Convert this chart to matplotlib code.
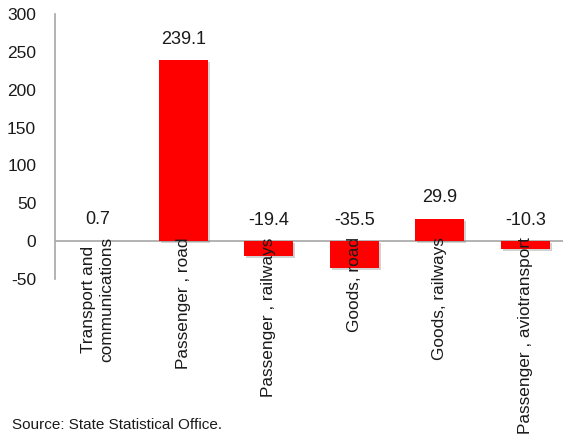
import matplotlib
matplotlib.use("Agg")
import matplotlib.pyplot as plt
import matplotlib.patheffects as pe

# data
categories = ["Transport and\ncommunications", "Passenger , road", "Passenger , railways",
              "Goods, road", "Goods, railways", "Passenger , aviotransport"]
values = [0.7, 239.1, -19.4, -35.5, 29.9, -10.3]
yticks = [-50, 0, 50, 100, 150, 200, 250, 300]

plt.rcParams['font.family'] = ['Liberation Sans', 'DejaVu Sans']
plt.rcParams['axes.unicode_minus'] = False

fig = plt.figure(figsize=(5.63, 4.41), dpi=100)
ax = fig.add_axes([55/563, 1 - 279/441, 513/563, 265/441])  # axes runs a bit past the right edge
ax.set_axisbelow(False)  # tick labels drawn on top of the bars

x = range(len(values))
bars = ax.bar(x, values, width=0.575, color="#FF0000", zorder=2)
for b in bars:
    b.set_path_effects([pe.SimplePatchShadow(offset=(1.5, -1.5), shadow_rgbFace="#808080", alpha=0.35),
                        pe.Normal()])

# value labels sit above the zero line / above the bar top
for i, v in enumerate(values):
    ax.annotate(f"{v:.1f}", (i, max(v, 0)), xytext=(0, 15), textcoords="offset points",
                ha="center", va="center", fontsize=13, color="#1a1a1a")

ax.axhline(0, color="#a6a6a6", lw=1.2, zorder=1.8)
ax.set_xlim(-0.5, 5.5)
ax.set_ylim(-50, 300)
ax.set_yticks(yticks)
ax.set_xticks(list(x))
ax.set_xticklabels(categories, rotation=90, fontsize=12.4, va="top", ha="center",
                   linespacing=1.3, color="#1a1a1a")
ax.tick_params(axis="x", length=0, pad=-30)
ax.tick_params(axis="y", length=0, pad=13.5, labelsize=12.5, labelcolor="#1a1a1a")

for s in ["top", "right", "bottom"]:
    ax.spines[s].set_visible(False)
ax.spines["left"].set_color("#a6a6a6")
ax.spines["left"].set_linewidth(1.2)

fig.text(12/563, 1 - 425/441, "Source: State Statistical Office.", fontsize=11,
         va="center", ha="left", color="#1a1a1a")

fig.savefig("out.png", dpi=100)
